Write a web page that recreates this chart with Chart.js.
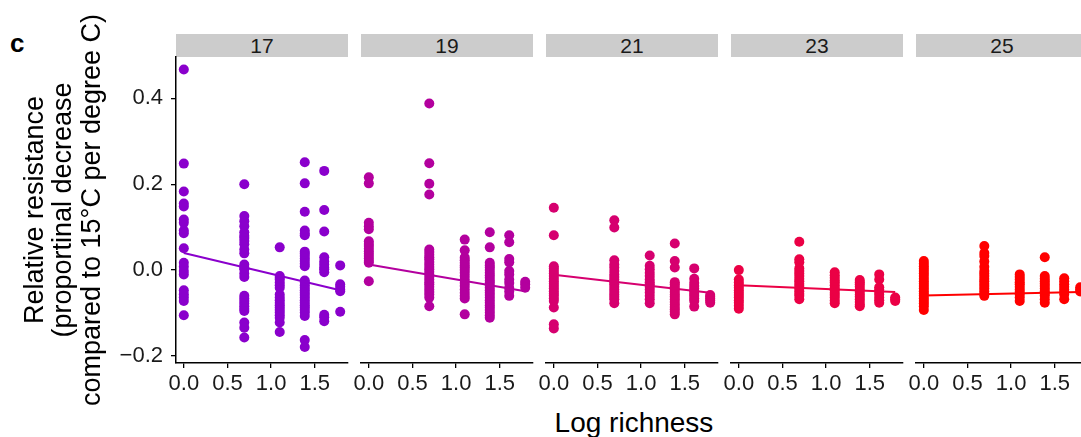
<!DOCTYPE html>
<html>
<head>
<meta charset="utf-8">
<script src="https://cdn.jsdelivr.net/npm/chart.js@4/dist/chart.umd.min.js"></script>
<style>
  body { margin: 0; width: 1081px; height: 437px; overflow: hidden; background: #fff;
         font-family: "Liberation Sans", Arial, Helvetica, sans-serif; }
  #wrap { position: relative; width: 1081px; height: 437px; }
  canvas { position: absolute; }
  .strip { position: absolute; top: 34px; height: 23px; line-height: 23px; width: 172px;
           background: #cccccc; text-align: center; font-size: 21px; color: #1a1a1a; }
  #tag { position: absolute; left: 10px; top: 30px; font-size: 26px; font-weight: bold; line-height: 26px; }
  #xtitle { position: absolute; left: 434px; width: 400px; top: 409px; text-align: center;
            font-size: 28px; line-height: 28px; color: #000; }
</style>
</head>
<body>
<div id="wrap">
  <div id="tag">c</div>
  <div id="xtitle">Log richness</div>
</div>
<script>
// facet labels (temperature) and colours
const temps = ['17', '19', '21', '23', '25'];
const colors = ['#8a00cc', '#b3009e', '#d6006f', '#eb0045', '#ff0000'];

// x positions: log of richness 1..6
const logRichness = [0, 0.693, 1.099, 1.386, 1.609, 1.792];
const xTicks = [0, 0.5, 1.0, 1.5];
const yTicks = [-0.2, 0, 0.2, 0.4];

// relative resistance values, one list per richness level
const res17 = [
    [0.467, 0.248, 0.183, 0.155, 0.148, 0.118, 0.110, 0.092, 0.086, 0.051, 0.017, 0.008, -0.002, -0.010, -0.047, -0.056, -0.064, -0.072, -0.105],
    [0.200, 0.126, 0.114, 0.102, 0.088, 0.080, 0.075, 0.068, 0.060, 0.048, 0.039, 0.013, 0.006, 0.002, -0.008, -0.016, -0.060, -0.066, -0.072, -0.078, -0.084, -0.090, -0.095, -0.122, -0.134, -0.157],
    [0.053, -0.014, -0.018, -0.022, -0.029, -0.035, -0.041, -0.057, -0.064, -0.070, -0.076, -0.082, -0.087, -0.093, -0.099, -0.105, -0.111, -0.122, -0.144],
    [0.251, 0.202, 0.136, 0.092, 0.085, 0.081, 0.043, 0.038, 0.033, 0.027, 0.021, 0.015, 0.009, -0.024, -0.029, -0.035, -0.041, -0.047, -0.053, -0.058, -0.064, -0.070, -0.076, -0.082, -0.087, -0.093, -0.099, -0.107, -0.163, -0.179],
    [0.231, 0.140, 0.090, 0.030, 0.020, 0.013, 0.006, 0.002, -0.005, -0.104, -0.110, -0.119],
    [0.011, -0.033, -0.039, -0.045, -0.049, -0.097]
];
const res19 = [
    [0.216, 0.202, 0.110, 0.102, 0.095, 0.067, 0.061, 0.056, 0.050, 0.044, 0.038, 0.033, 0.027, 0.021, 0.017, -0.026],
    [0.388, 0.249, 0.201, 0.176, 0.048, 0.042, 0.036, 0.030, 0.025, 0.019, 0.013, 0.007, 0.002, -0.004, -0.010, -0.016, -0.022, -0.028, -0.033, -0.039, -0.045, -0.051, -0.057, -0.064, -0.084],
    [0.071, 0.046, 0.029, 0.023, 0.017, 0.011, 0.006, 0.000, -0.006, -0.014, -0.022, -0.030, -0.037, -0.045, -0.053, -0.060, -0.066, -0.103],
    [0.088, 0.053, 0.017, 0.011, 0.006, 0.000, -0.006, -0.012, -0.018, -0.024, -0.029, -0.035, -0.041, -0.047, -0.053, -0.058, -0.064, -0.070, -0.076, -0.082, -0.087, -0.093, -0.099, -0.105, -0.111],
    [0.081, 0.065, 0.026, 0.018, -0.002, -0.010, -0.022, -0.030, -0.041, -0.050, -0.060],
    [-0.027, -0.033, -0.041]
];
const res21 = [
    [0.145, 0.081, 0.009, 0.004, -0.002, -0.008, -0.014, -0.020, -0.026, -0.032, -0.037, -0.043, -0.049, -0.055, -0.060, -0.066, -0.072, -0.087, -0.126, -0.136],
    [0.116, 0.099, 0.023, 0.013, 0.006, -0.002, -0.010, -0.016, -0.022, -0.028, -0.033, -0.039, -0.045, -0.051, -0.057, -0.062, -0.068, -0.077],
    [0.034, 0.010, 0.002, -0.006, -0.014, -0.022, -0.028, -0.033, -0.039, -0.045, -0.052, -0.060, -0.068, -0.077],
    [0.062, 0.021, 0.006, -0.028, -0.033, -0.039, -0.045, -0.051, -0.057, -0.062, -0.068, -0.074, -0.080, -0.086, -0.091, -0.097, -0.103],
    [0.004, -0.020, -0.030, -0.037, -0.043, -0.049, -0.055, -0.060, -0.066, -0.072, -0.085],
    [-0.058, -0.062, -0.066, -0.071, -0.076]
];
const res23 = [
    [0.000, -0.022, -0.029, -0.035, -0.041, -0.047, -0.053, -0.058, -0.064, -0.070, -0.076, -0.083, -0.090],
    [0.066, 0.025, 0.018, 0.004, -0.002, -0.008, -0.014, -0.020, -0.026, -0.032, -0.037, -0.043, -0.049, -0.055, -0.060, -0.068],
    [-0.005, -0.012, -0.018, -0.024, -0.029, -0.035, -0.041, -0.047, -0.053, -0.058, -0.064, -0.071, -0.077],
    [-0.023, -0.028, -0.033, -0.039, -0.045, -0.051, -0.057, -0.062, -0.068, -0.074, -0.080, -0.084],
    [-0.010, -0.022, -0.040, -0.045, -0.051, -0.057, -0.064, -0.070, -0.076],
    [-0.064, -0.068, -0.072]
];
const res25 = [
    [0.021, 0.015, 0.009, 0.003, -0.002, -0.008, -0.014, -0.020, -0.026, -0.032, -0.037, -0.043, -0.049, -0.055, -0.060, -0.066, -0.072, -0.078, -0.084, -0.093],
    [0.056, 0.040, 0.033, 0.020, 0.008, -0.002, -0.008, -0.014, -0.020, -0.026, -0.032, -0.037, -0.043, -0.049, -0.055, -0.060],
    [-0.010, -0.016, -0.022, -0.028, -0.033, -0.039, -0.045, -0.051, -0.057, -0.064, -0.072],
    [0.030, -0.014, -0.020, -0.026, -0.032, -0.037, -0.043, -0.049, -0.055, -0.060, -0.068, -0.076],
    [-0.019, -0.026, -0.033, -0.039, -0.045, -0.051, -0.057, -0.068],
    [-0.040, -0.045, -0.050]
];
const panelData = [res17, res19, res21, res23, res25];

// fitted line ends (at log richness 0 and 1.792)
const fitStart = [0.040, 0.013, -0.011, -0.035, -0.059];
const fitEnd = [-0.047, -0.049, -0.053, -0.051, -0.051];

const FONT = '"Liberation Sans", Arial, Helvetica, sans-serif';
const X_MIN = -0.0896, X_MAX = 1.8814;
const Y_MIN = -0.2163, Y_MAX = 0.4962;
const PLOT_TOP = 57, PLOT_W = 172, PLOT_H = 306, XAXIS_H = 35;
const panelLeft = [176, 361, 546, 731, 916];

function fmt(v) {
    const s = Math.abs(v).toFixed(1);
    return v < -1e-9 ? '\u2212' + s : s;
}

function makePanel(i) {
    const wrap = document.getElementById('wrap');
    const strip = document.createElement('div');
    strip.className = 'strip';
    strip.style.left = panelLeft[i] + 'px';
    strip.textContent = temps[i];
    wrap.appendChild(strip);

    const first = i === 0;
    const padL = first ? 0 : 15;
    const yW = first ? panelLeft[0] : 0;
    // the first panel's canvas spans the full height so the y title fits
    const padT = first ? PLOT_TOP : 0;
    const padB = first ? 437 - PLOT_TOP - PLOT_H - XAXIS_H : 0;
    const canvas = document.createElement('canvas');
    const w = yW + padL + PLOT_W + 15;
    const h = padT + PLOT_H + XAXIS_H + padB;
    canvas.width = w;
    canvas.height = h;
    canvas.style.width = w + 'px';
    canvas.style.height = h + 'px';
    canvas.style.left = (first ? 0 : panelLeft[i] - padL) + 'px';
    canvas.style.top = (first ? 0 : PLOT_TOP) + 'px';
    wrap.appendChild(canvas);

    const pts = [];
    panelData[i].forEach((vals, k) => {
        vals.forEach(v => pts.push({ x: logRichness[k], y: v }));
    });

    new Chart(canvas.getContext('2d'), {
        type: 'scatter',
        data: {
            datasets: [{
                type: 'line',
                data: [{ x: logRichness[0], y: fitStart[i] }, { x: logRichness[5], y: fitEnd[i] }],
                borderColor: colors[i],
                borderWidth: 2,
                pointRadius: 0,
                fill: false
            }, {
                data: pts,
                backgroundColor: colors[i],
                borderWidth: 0,
                pointRadius: 5,
                pointHoverRadius: 5
            }]
        },
        options: {
            responsive: false,
            animation: false,
            devicePixelRatio: 1,
            layout: { autoPadding: false, padding: { left: padL, right: 15, top: padT, bottom: padB } },
            plugins: { legend: { display: false }, tooltip: { enabled: false } },
            scales: {
                x: {
                    type: 'linear',
                    min: X_MIN,
                    max: X_MAX,
                    afterBuildTicks: s => { s.ticks = xTicks.map(v => ({ value: v })); },
                    afterFit: s => { s.height = XAXIS_H; s.paddingLeft = 0; s.paddingRight = 0; },
                    border: { display: true, color: '#000', width: 1.5 },
                    grid: { drawOnChartArea: false, drawTicks: true, tickLength: 5, color: '#000', lineWidth: 1.3 },
                    ticks: { padding: 3, color: '#1a1a1a', maxRotation: 0, autoSkip: false,
                             font: { family: FONT, size: 22 }, callback: v => fmt(v) }
                },
                y: {
                    type: 'linear',
                    display: first,
                    min: Y_MIN,
                    max: Y_MAX,
                    afterBuildTicks: s => { s.ticks = yTicks.map(v => ({ value: v })); },
                    afterFit: s => { s.width = yW; s.paddingTop = 0; s.paddingBottom = 0; },
                    border: { display: true, color: '#000', width: 1.5 },
                    grid: { drawOnChartArea: false, drawTicks: true, tickLength: 5, color: '#000', lineWidth: 1.3 },
                    ticks: { padding: 8, color: '#1a1a1a', font: { family: FONT, size: 22 }, callback: v => fmt(v) },
                    title: {
                        display: true,
                        text: ['Relative resistance', '(proportinal decrease', 'compared to 15\u00b0C per degree C)'],
                        color: '#000',
                        font: { family: FONT, size: 27, lineHeight: 1.06 },
                        padding: { top: 21, bottom: 0 }
                    }
                }
            }
        }
    });
}

temps.forEach((t, i) => makePanel(i));
</script>
</body>
</html>
